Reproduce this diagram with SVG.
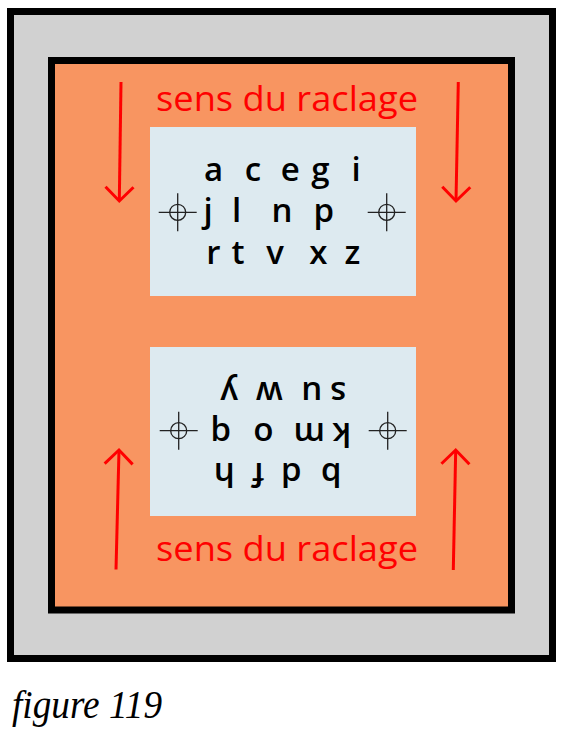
<svg xmlns="http://www.w3.org/2000/svg" width="567" height="743" viewBox="0 0 567 743">
  <style>
    .frame { stroke: #000; stroke-width: 7; }
    .panel { fill: #ddeaf0; }
    .let { font-family: "Open Sans", "Noto Sans", sans-serif; font-size: 33px; font-weight: 600; fill: #000; text-anchor: middle; }
    .label { font-family: "Open Sans", "Noto Sans", sans-serif; font-size: 35px; fill: #ff0000; }
    .arrow { stroke: #ff0000; stroke-width: 3; fill: none; }
    .cap { font-family: "Liberation Serif", serif; font-style: italic; font-size: 40px; fill: #000; }
  </style>
  <defs>
    <marker id="vhead" markerUnits="userSpaceOnUse" orient="auto" refX="0" refY="0" markerWidth="40" markerHeight="40" viewBox="-20 -20 40 40" overflow="visible">
      <path d="M-14,-14 L0,0 L-14,14" fill="none" stroke="#ff0000" stroke-width="3"/>
    </marker>
    <g id="cross">
      <circle cx="0" cy="0" r="8" fill="none" stroke="#222" stroke-width="1.3"/>
      <line x1="-19" y1="0" x2="19" y2="0" stroke="#222" stroke-width="1.3"/>
      <line x1="0" y1="-19" x2="0" y2="19" stroke="#222" stroke-width="1.3"/>
    </g>
  </defs>

  <rect width="567" height="743" fill="#fff"/>

  <g id="outer-frame">
    <rect class="frame" x="10.5" y="11.5" width="542" height="647" fill="#d1d1d1"/>
  </g>
  <g id="inner-frame">
    <rect class="frame" x="51.5" y="60.5" width="460" height="549.5" fill="#f89561"/>
  </g>

  <g id="panel-top">
    <rect class="panel" x="150" y="127" width="266" height="169"/>
    <use href="#cross" x="177.7" y="212.3"/>
    <use href="#cross" x="386.7" y="212.3"/>
    <text class="let" x="213.7" y="181">a</text>
    <text class="let" x="253" y="181">c</text>
    <text class="let" x="290.3" y="181">e</text>
    <text class="let" x="320.5" y="181">g</text>
    <text class="let" x="356" y="181">i</text>
    <text class="let" x="208" y="222">j</text>
    <text class="let" x="236.5" y="222">l</text>
    <text class="let" x="282" y="222">n</text>
    <text class="let" x="323.8" y="222">p</text>
    <text class="let" x="213.3" y="263.5">r</text>
    <text class="let" x="238" y="263.5">t</text>
    <text class="let" x="275" y="263.5">v</text>
    <text class="let" x="318.3" y="263.5">x</text>
    <text class="let" x="352.5" y="263.5">z</text>
  </g>

  <g id="panel-bottom">
    <rect class="panel" x="150" y="347" width="266" height="169"/>
    <use href="#cross" x="178.7" y="430.7"/>
    <use href="#cross" x="387.7" y="430.7"/>
    <g transform="rotate(180 283 431.5)">
      <text class="let" x="234.7" y="400">b</text>
      <text class="let" x="274.7" y="400">d</text>
      <text class="let" x="307.7" y="400">f</text>
      <text class="let" x="341.8" y="400">h</text>
      <text class="let" x="224.3" y="440.5">k</text>
      <text class="let" x="256.8" y="440.5">m</text>
      <text class="let" x="302.7" y="440.5">o</text>
      <text class="let" x="345.2" y="440.5">q</text>
      <text class="let" x="227.7" y="481.5">s</text>
      <text class="let" x="254.3" y="481.5">u</text>
      <text class="let" x="296.8" y="481.5">w</text>
      <text class="let" x="336.8" y="481.5">y</text>
    </g>
  </g>

  <g id="labels">
    <text class="label" x="156" y="111" textLength="262" lengthAdjust="spacingAndGlyphs">sens du raclage</text>
    <text class="label" x="156" y="561" textLength="262" lengthAdjust="spacingAndGlyphs">sens du raclage</text>
  </g>

  <g id="connectors">
    <line class="arrow" x1="121" y1="82" x2="119.3" y2="201" marker-end="url(#vhead)"/>
    <line class="arrow" x1="458.3" y1="82" x2="456" y2="201" marker-end="url(#vhead)"/>
    <line class="arrow" x1="116" y1="569.5" x2="119" y2="450" marker-end="url(#vhead)"/>
    <line class="arrow" x1="453.3" y1="570" x2="455.7" y2="450" marker-end="url(#vhead)"/>
  </g>

  <text class="cap" x="12" y="718" textLength="150" lengthAdjust="spacingAndGlyphs">figure 119</text>
</svg>
